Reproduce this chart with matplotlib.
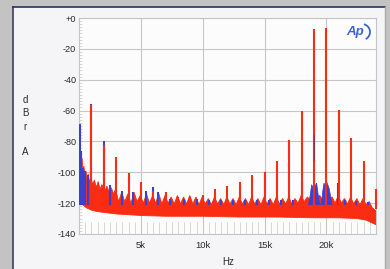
import numpy as np
import matplotlib
matplotlib.use("Agg")
import matplotlib.pyplot as plt
from matplotlib.patches import Rectangle, Arc
from matplotlib.lines import Line2D

# ---------------- data (kHz, dB) ----------------
red_spike_f = [1, 2, 3, 4, 5, 6, 7, 8, 9, 10, 11, 12, 13, 14, 15, 16, 17, 18,
               19, 20, 21, 22, 23, 24]
red_spike_db = [-56.5, -82, -90, -100.5, -106.5, -112, -113, -116, -116, -115,
                -111, -109, -106, -102, -99.5, -93, -79, -60, -7, -6.7, -59.6,
                -77.5, -92.5, -111]

red_top_f = [0.00, 0.04, 0.08, 0.12, 0.18, 0.25, 0.32, 0.40,
             0.48, 0.56, 0.65, 0.75, 0.85, 0.95, 1.10, 1.25,
             1.40, 1.55, 1.70, 1.85, 2.10, 2.25, 2.45, 2.60,
             2.80, 2.95, 3.20, 3.45, 3.70, 3.95, 4.20, 4.45,
             4.70, 4.95, 5.20, 5.45, 5.70, 5.95, 6.20, 6.45,
             6.70, 6.95, 7.20, 7.45, 7.70, 7.95, 8.20, 8.45,
             8.70, 8.95, 9.20, 9.45, 9.70, 9.95, 10.20, 10.45,
             10.70, 10.95, 11.20, 11.45, 11.70, 11.95, 12.20, 12.45,
             12.70, 12.95, 13.20, 13.45, 13.70, 13.95, 14.20, 14.45,
             14.70, 14.95, 15.20, 15.45, 15.70, 15.95, 16.20, 16.45,
             16.70, 16.95, 17.20, 17.45, 17.70, 17.95, 18.20, 18.45,
             18.70, 18.95, 19.20, 19.45, 19.70, 19.95, 20.20, 20.45,
             20.70, 20.95, 21.20, 21.45, 21.70, 21.95, 22.20, 22.45,
             22.70, 22.95, 23.20, 23.45, 23.70, 24.00]
red_top_db = [-82, -78, -88, -84, -94, -91, -99, -96,
              -103, -99, -105, -101, -107, -103, -108, -105,
              -110, -106, -111, -108, -112, -109, -113, -110,
              -114, -111, -119, -113, -119, -114, -120, -113,
              -119, -115, -120, -114, -120, -115, -120, -114,
              -120.5, -115, -120, -116, -120.5, -115, -120.5, -116,
              -120.5, -115, -120.5, -116, -121, -116, -120.5, -117,
              -121, -116, -120.5, -117, -121, -116, -120.5, -117,
              -121, -116, -120.5, -117, -121, -116, -120.5, -117,
              -121, -116, -120.5, -117, -121, -116, -120.5, -117,
              -120.5, -116, -120.5, -117, -120, -115, -119, -116,
              -118, -113, -117, -115, -118, -113, -117, -116,
              -120, -115, -120, -117, -120.5, -116, -120.5, -117,
              -121, -117, -121, -119, -123, -125]

red_bot_f = [0.0, 0.15, 0.3, 0.6, 1.0, 1.5, 2.0, 3.0, 4.0, 5.0, 7.0, 10.0,
             13.0, 16.0, 19.0, 21.0, 22.5, 23.2, 23.6, 24.0]
red_bot_db = [-116, -119, -121, -123, -124.5, -125.5, -126, -127, -127.5,
              -128, -128.5, -128.5, -129, -129, -129.5, -129.5, -130, -131,
              -132.5, -134]

blue_spike_f = [0.06, 0.15, 0.30, 0.50, 0.70, 1.00, 2.00, 2.50, 3.45,
                4.40, 5.45, 6.00, 6.40, 7.35, 8.50, 9.50, 10.50, 11.50, 12.45,
                13.45, 14.40, 15.35, 16.30, 17.30, 18.05, 20.95, 21.50, 22.40,
                23.35]
blue_spike_db = [-69, -86, -97, -99, -102, -55.5, -80, -108, -112,
                 -113, -112, -109.5, -113, -117, -117.5, -117.5, -118, -118, -118,
                 -118, -118, -118, -118, -118, -106, -107, -118, -118.5,
                 -119]

blue_hump_f = [18.55, 18.7, 18.8, 18.9, 19.0, 19.1, 19.2, 19.3, 19.45,
               19.6, 19.7, 19.8, 19.9, 20.0, 20.1, 20.2, 20.3, 20.45]
blue_hump_db = [-121, -114, -108, -110, -106, -109, -107, -113, -121,
                -120, -112, -107, -109, -106, -108, -110, -114, -121]

blue_19k_seg = [-92, -76]

y_ticks = [0, -20, -40, -60, -80, -100, -120, -140]
y_tick_labels = ["+0", "-20", "-40", "-60", "-80", "-100", "-120", "-140"]
x_ticks = [5000, 10000, 15000, 20000]
x_tick_labels = ["5k", "10k", "15k", "20k"]

# ---------------- styling ----------------
RED = "#fa2c12"
BLUE = "#3a40d2"
GRID = "#c6c6c6"
TXT = "#2a2a2a"
FONT = "Liberation Sans"

W, H = 390, 269
fig = plt.figure(figsize=(W / 100, H / 100), dpi=100, facecolor="#c3c3c3")

def fx(px):
    return px / W

def fy(py):
    return 1 - py / H

# panel
fig.patches.append(Rectangle((fx(13), 0), fx(385) - fx(13), fy(7),
                             transform=fig.transFigure, facecolor="#f5f5f7",
                             edgecolor="none", zorder=-5))
fig.lines.append(Line2D([fx(13), fx(13)], [0, fy(7)], transform=fig.transFigure,
                        color="#3b4055", lw=1.2, zorder=-4))
fig.lines.append(Line2D([fx(13), fx(385)], [fy(7), fy(7)], transform=fig.transFigure,
                        color="#2b3163", lw=1.2, zorder=-4))
fig.lines.append(Line2D([fx(385), fx(385)], [0, fy(7)], transform=fig.transFigure,
                        color="#a8a8a8", lw=1.0, zorder=-4))

ax = fig.add_axes([fx(79), fy(234), fx(376) - fx(79), fy(18) - fy(234)])
ax.set_zorder(1)
ax.set_facecolor("#fcfcfc")
ax.set_xlim(0, 24000)
ax.set_ylim(-140, 0)

hz = lambda seq: np.asarray(seq, dtype=float) * 1000.0

# red noise band (polygon: top edge then bottom edge reversed)
poly_x = np.concatenate([hz(red_top_f), hz(red_bot_f)[::-1]])
poly_y = np.concatenate([np.asarray(red_top_db), np.asarray(red_bot_db)[::-1]])
ax.fill(poly_x, poly_y, color=RED, lw=0.6, zorder=2)

# blue components
ax.fill(hz(blue_hump_f), blue_hump_db, color=BLUE, lw=0.5, zorder=3)
ax.vlines(hz(blue_spike_f), -121, blue_spike_db, color=BLUE, lw=1.5, zorder=3)

# red spikes
ax.vlines(hz(red_spike_f), -124, red_spike_db, color=RED, lw=1.5, zorder=4,
          clip_on=False)
ax.vlines([19000], blue_19k_seg[0], blue_19k_seg[1], color="#5a2a6a", lw=0.8,
          alpha=0.6, zorder=5)

# grid & ticks
ax.set_yticks(y_ticks)
ax.set_yticklabels(y_tick_labels, fontsize=6.6, color=TXT, family=FONT)
ax.set_xticks(x_ticks)
ax.set_xticklabels(x_tick_labels, fontsize=6.8, color=TXT, family=FONT)
ax.set_xticks(np.arange(500, 24000, 500), minor=True)
ax.set_yticks(np.arange(-138, 0, 2), minor=True)
ax.tick_params(axis="both", which="major", length=0)
ax.tick_params(axis="y", which="major", pad=2)
ax.tick_params(axis="x", which="major", pad=5)
ax.tick_params(axis="x", which="minor", direction="in", length=9, width=0.6,
               color="#d0d0d0")
ax.tick_params(axis="y", which="minor", direction="in", length=2.2, width=0.5,
               color="#c8c8c8")
ax.grid(True, which="major", color=GRID, lw=0.8, zorder=1)
ax.set_axisbelow(True)
for s in ax.spines.values():
    s.set_color("#c4c4c4")
    s.set_linewidth(0.8)

# axis labels
fig.text(fx(228), fy(262), "Hz", ha="center", va="center", fontsize=7,
         color=TXT, family=FONT)
for ch, py in zip(["d", "B", "r", "A"], [100, 113, 127, 152]):
    fig.text(fx(25), fy(py), ch, ha="center", va="center", fontsize=7,
             color=TXT, family=FONT)

# Ap logo
fig.text(fx(355), fy(32), "Ap", ha="center", va="center", fontsize=9.5,
         style="italic", weight="bold", color="#3d62d8", family=FONT, zorder=3)
fig.patches.append(Arc((fx(362), fy(32)), fx(16), 16 / H, theta1=-70, theta2=80,
                       transform=fig.transFigure, color="#3d62d8", lw=1.3,
                       zorder=3))

fig.savefig("out.png", dpi=100, facecolor=fig.get_facecolor())
